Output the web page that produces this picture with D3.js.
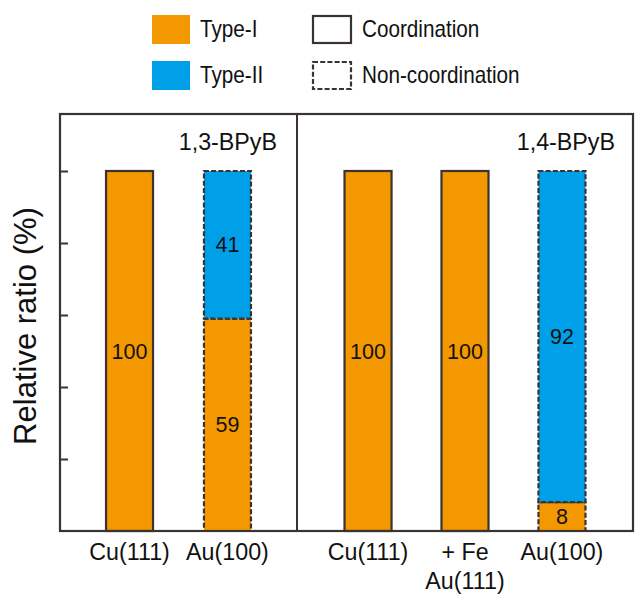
<!DOCTYPE html>
<html><head><meta charset="utf-8">
<script src="https://cdn.jsdelivr.net/npm/d3@7"></script>
<style>body{margin:0;background:#fff}svg{display:block;font-family:"Liberation Sans",Arial,sans-serif}</style>
</head><body><svg id="c" width="635" height="594"></svg>
<script>
const panels = ["1,3-BPyB", "1,4-BPyB"];
const panelOf = [0, 0, 1, 1, 1];
const categories = ["Cu(111)", "Au(100)", "Cu(111)", "Au(111)", "Au(100)"];
const catPrefix = ["", "", "", "+ Fe", ""];
const typeI = [100, 59, 100, 100, 8];
const typeII = [0, 41, 0, 0, 92];
const coordination = [true, false, true, true, false];
const yTicks = [20, 40, 60, 80, 100];
const legendTypes = ["Type-I", "Type-II"];
const legendStyles = ["Coordination", "Non-coordination"];

const C_I = "#F39800", C_II = "#00A0E9", INK = "#3A3331", TXT = "#111";
const DASH = "5,2.2";
const svg = d3.select("#c");
const L = 60, R = 633, T = 114, B = 531, D = 297;
const y = d3.scaleLinear().domain([0, 100]).range([B, 171]);

const xs = [
  d3.scaleBand().domain([0, 1]).range([L, D]).paddingInner(0.52).paddingOuter(0.47),
  d3.scaleBand().domain([2, 3, 4]).range([D, R]).paddingInner(0.515).paddingOuter(0.49)
];

function txt(x, yy, s, size, anchor, sx) {
  return svg.append("text")
    .attr("transform", `translate(${x},${yy}) scale(${sx || 1},1)`)
    .attr("text-anchor", anchor || "start").attr("font-size", size)
    .attr("fill", TXT).text(s);
}

// bars
categories.forEach((c, i) => {
  const x = xs[panelOf[i]];
  const segs = [{v0: 0, v1: typeI[i], col: C_I}, {v0: typeI[i], v1: typeI[i] + typeII[i], col: C_II}]
    .filter(s => s.v1 > s.v0);
  const dash = coordination[i] ? null : DASH;
  const cx = x(i) + x.bandwidth() / 2;
  segs.forEach(s => {
    svg.append("rect").attr("x", x(i)).attr("width", x.bandwidth())
      .attr("y", y(s.v1)).attr("height", y(s.v0) - y(s.v1))
      .attr("fill", s.col).attr("stroke", INK).attr("stroke-width", 2.2)
      .attr("stroke-dasharray", dash);
    txt(cx, (y(s.v0) + y(s.v1)) / 2 + 7.5, s.v1 - s.v0, 21.5, "middle");
  });
  if (catPrefix[i]) {
    txt(cx, 560, catPrefix[i], 24, "middle", 0.97);
    txt(cx, 589, c, 24, "middle", 0.97);
  } else {
    txt(cx, 560, c, 24, "middle", 0.97);
  }
});

// frame
svg.append("rect").attr("x", L).attr("y", T).attr("width", R - L).attr("height", B - T)
  .attr("fill", "none").attr("stroke", INK).attr("stroke-width", 2.2);
svg.append("line").attr("x1", D).attr("x2", D).attr("y1", T).attr("y2", B)
  .attr("stroke", INK).attr("stroke-width", 2);

// y ticks (inside)
const yAxis = d3.axisRight(y).tickValues(yTicks).tickSize(8).tickFormat("");
const ga = svg.append("g").attr("transform", `translate(${L},0)`).call(yAxis);
ga.select(".domain").remove();
ga.selectAll("line").attr("stroke", INK).attr("stroke-width", 2);

// panel labels
txt(277, 150, panels[0], 24, "end", 0.97);
txt(615, 150, panels[1], 24, "end", 0.97);

// y title
svg.append("text").attr("transform", "translate(36,326) rotate(-90)")
  .attr("text-anchor", "middle").attr("font-size", 31).attr("fill", TXT)
  .text("Relative ratio (%)");

// legend
legendTypes.forEach((t, k) => {
  const yy = 15 + k * 46;
  svg.append("rect").attr("x", 152).attr("y", yy).attr("width", 38).attr("height", 29).attr("fill", k ? C_II : C_I);
  txt(200, yy + 22, t, 23, "start", 0.9);
});
legendStyles.forEach((t, k) => {
  const yy = 15 + k * 46;
  svg.append("rect").attr("x", 313).attr("y", yy + 1).attr("width", 38).attr("height", 27)
    .attr("fill", "#fff").attr("stroke", INK).attr("stroke-width", 2.2)
    .attr("stroke-dasharray", k ? DASH : null);
  txt(362, yy + 22, t, 23, "start", 0.9);
});
</script></body></html>
